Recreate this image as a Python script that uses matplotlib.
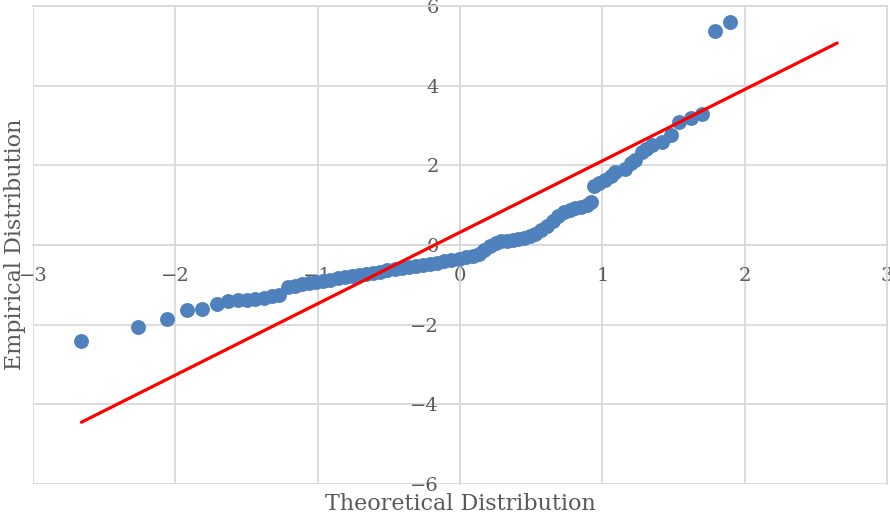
import numpy as np
from matplotlib import pyplot as plt

# theoretical quantiles vs. empirical values
theo = [-2.66, -2.26, -2.06, -1.92, -1.81, -1.71, -1.63, -1.56, -1.50, -1.44,
        -1.38, -1.32, -1.27, -1.21, -1.16, -1.11, -1.06, -1.01, -0.96, -0.91,
        -0.86, -0.81, -0.76, -0.71, -0.66, -0.61, -0.56, -0.51, -0.46, -0.41,
        -0.36, -0.31, -0.26, -0.21, -0.16, -0.11, -0.06, -0.01, 0.04, 0.09,
        0.13, 0.17, 0.21, 0.25, 0.29, 0.33, 0.37, 0.41, 0.45, 0.49,
        0.53, 0.57, 0.61, 0.65, 0.69, 0.73, 0.77, 0.81, 0.85, 0.89,
        0.92, 0.94, 0.98, 1.02, 1.06, 1.09, 1.16, 1.20, 1.23, 1.28,
        1.31, 1.35, 1.42, 1.48, 1.54, 1.62, 1.70, 1.79, 1.90]
emp = [-2.41, -2.06, -1.85, -1.63, -1.61, -1.49, -1.41, -1.39, -1.37, -1.35,
       -1.32, -1.29, -1.25, -1.06, -1.02, -0.99, -0.96, -0.93, -0.90, -0.87,
       -0.84, -0.81, -0.78, -0.76, -0.73, -0.70, -0.67, -0.64, -0.61, -0.58,
       -0.56, -0.53, -0.50, -0.47, -0.44, -0.41, -0.38, -0.35, -0.31, -0.27,
       -0.22, -0.12, -0.03, 0.04, 0.09, 0.11, 0.13, 0.15, 0.18, 0.22,
       0.28, 0.37, 0.48, 0.60, 0.72, 0.82, 0.89, 0.93, 0.96, 1.01,
       1.08, 1.47, 1.56, 1.62, 1.72, 1.84, 1.92, 2.05, 2.13, 2.34,
       2.42, 2.50, 2.59, 2.76, 3.09, 3.18, 3.30, 5.36, 5.61]

# reference (fit) line end points
line_x = [-2.66, 2.65]
line_y = [-4.45, 5.07]

x_ticks = [-3, -2, -1, 0, 1, 2, 3]
y_ticks = [-6, -4, -2, 0, 2, 4, 6]

grey = "#595959"
grid_col = "#d9d9d9"

plt.rcParams["font.family"] = ["DejaVu Serif"]

fig = plt.figure(figsize=(8.9, 5.21), dpi=100)
ax = fig.add_axes([33 / 890, 37 / 521, 854 / 890, 478 / 521])

ax.scatter(theo, emp, s=115, color="#4F81BD", zorder=3, linewidths=0)
ax.plot(line_x, line_y, color="#FF0000", linewidth=2.3, zorder=4,
        solid_capstyle="round")

ax.set_xlim(-3, 3)
ax.set_ylim(-6, 6)
ax.set_xticks(x_ticks)
ax.set_yticks(y_ticks)
ax.grid(True, color=grid_col, linewidth=1.3, zorder=0)
ax.set_axisbelow(True)

for side in ["top", "right"]:
    ax.spines[side].set_color(grid_col)
    ax.spines[side].set_linewidth(1.3)
ax.spines["left"].set_position("zero")
ax.spines["bottom"].set_position("zero")
ax.spines["left"].set_color(grid_col)
ax.spines["bottom"].set_color(grid_col)
ax.spines["left"].set_linewidth(1.3)
ax.spines["bottom"].set_linewidth(1.3)

ax.tick_params(axis="both", length=0, labelsize=14, labelcolor=grey)
ax.tick_params(axis="x", pad=16)
ax.tick_params(axis="y", pad=15)
for lab in ax.get_xticklabels() + ax.get_yticklabels():
    lab.set_clip_on(False)

fig.text(460 / 890, 1 - 504 / 521, "Theoretical Distribution", ha="center",
         va="center", fontsize=16, color=grey)
fig.text(15 / 890, 1 - 244 / 521, "Empirical Distribution", ha="center",
         va="center", rotation=90, fontsize=16, color=grey)

fig.savefig("out.png", dpi=100)
